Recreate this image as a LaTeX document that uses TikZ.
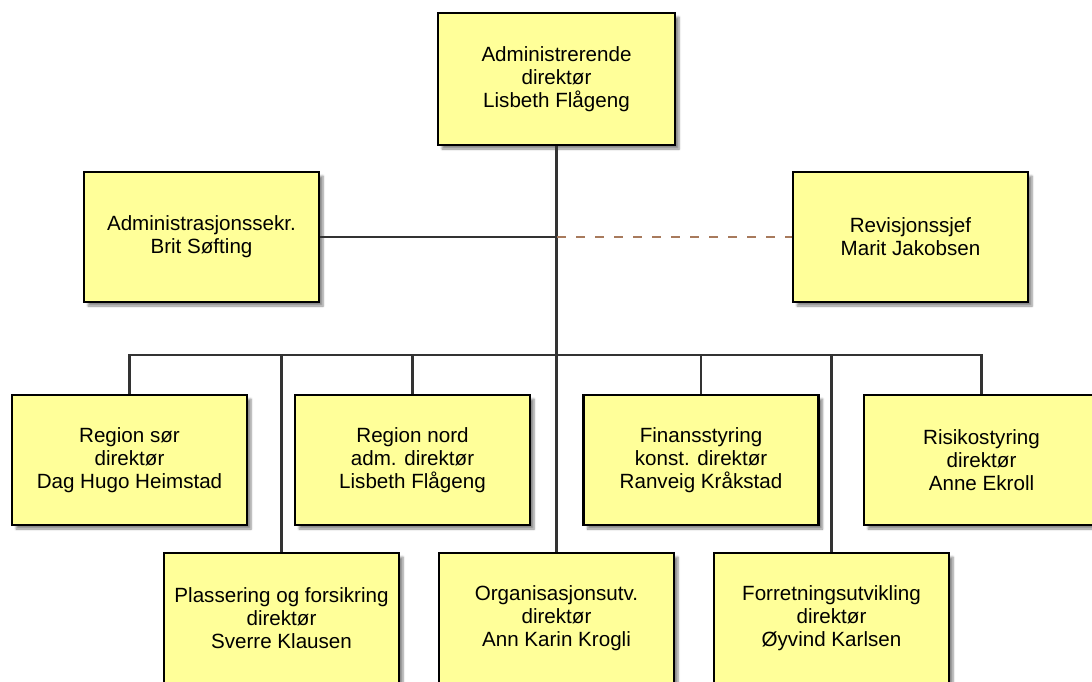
\documentclass[tikz,border=0pt]{standalone}
\usepackage{fontspec}
\setmainfont{Liberation Sans}
\usetikzlibrary{shadows.blur}
\definecolor{boxfill}{HTML}{FFFF99}
\definecolor{linkgray}{HTML}{333333}
\definecolor{dotted}{HTML}{A87A5C}
\begin{document}
\begin{tikzpicture}[x=1pt,y=-1pt,
  unit/.style={draw=black, line width=2.8pt, fill=boxfill,
    minimum width=235pt, minimum height=130pt, inner sep=0pt,
    align=center, font=\fontsize{20.6}{23}\selectfont,
    blur shadow={shadow xshift=4pt, shadow yshift=-4pt, shadow opacity=45, shadow blur steps=6}},
  link/.style={draw=linkgray, line width=2.2pt},
  staff/.style={draw=dotted, line width=2.4pt, dash pattern=on 9pt off 10pt}]
\useasboundingbox (0,0) rectangle (1092,682);
\begin{scope}
\clip (0,0) rectangle (1092,682);

% junction points of the reporting lines
\coordinate (staffpt) at (557,237);
\coordinate (bus) at (557,355);

% management and staff
\node[unit, minimum width=237pt, minimum height=132pt] (ceo) at (556.5,79) {Administrerende\\direktør\\Lisbeth Flågeng};
\node[unit] (sekr) at (201.5,237) {Administrasjonssekr.\\Brit Søfting};
\node[unit] (rev) at (910.5,237) {Revisjonssjef\\Marit Jakobsen};

% first row of units
\node[unit] (sor) at (129.5,460) {Region sør\\direktør\\Dag Hugo Heimstad};
\node[unit] (nord) at (412.5,460) {Region nord\\adm. direktør\\Lisbeth Flågeng};
\node[unit] (fin) at (701,460) {Finansstyring\\konst. direktør\\Ranveig Kråkstad};
\node[unit] (risk) at (981.5,460) {Risikostyring\\direktør\\Anne Ekroll};

% second row of units
\node[unit] (plass) at (281.5,618) {Plassering og forsikring\\direktør\\Sverre Klausen};
\node[unit] (org) at (556.5,618) {Organisasjonsutv.\\direktør\\Ann Karin Krogli};
\node[unit] (forr) at (831.5,618) {Forretningsutvikling\\direktør\\Øyvind Karlsen};

% reporting lines
\draw[link] (ceo.south) -- (org.north);
\draw[link] (sekr.east) -- (staffpt);
\draw[staff] (staffpt) -- (rev.west);
\draw[link] (sor.north) -- (sor.north |- bus) -- (risk.north |- bus) -- (risk.north);
\draw[link] (nord.north) -- (nord.north |- bus);
\draw[link] (fin.north) -- (fin.north |- bus);
\draw[link] (plass.north) -- (plass.north |- bus);
\draw[link] (forr.north) -- (forr.north |- bus);
\end{scope}
\end{tikzpicture}
\end{document}
